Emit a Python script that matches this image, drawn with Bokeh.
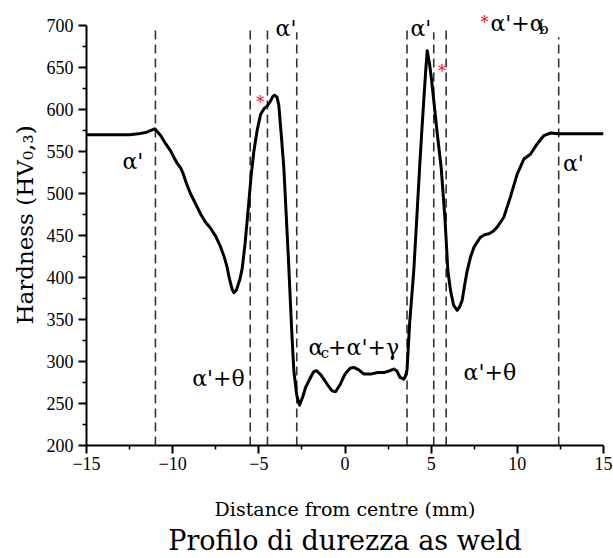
import math
from bokeh.plotting import figure
from bokeh.models import Range1d, FixedTicker, Label, Title
from bokeh.embed import file_html
from bokeh.resources import INLINE

# ---- data ----
distance = [-15.0, -13.0, -12.5, -12.0, -11.5, -11.04, -10.7, -10.4, -10.13, -9.9, -9.74,
            -9.55, -9.4, -9.2, -8.97, -8.7, -8.39, -8.1, -7.81, -7.5, -7.23, -7.0, -6.84,
            -6.7, -6.55, -6.45, -6.3, -6.1, -5.97, -5.8, -5.58, -5.45, -5.29, -5.1, -4.9,
            -4.7, -4.52, -4.35, -4.2, -4.09, -3.95, -3.84, -3.7, -3.55, -3.4, -3.26, -3.1,
            -2.97, -2.8, -2.64, -2.45, -2.29, -2.0, -1.81, -1.65, -1.4, -1.0, -0.75, -0.55,
            -0.3, 0.0, 0.3, 0.51, 0.8, 1.1, 1.48, 1.9, 2.3, 2.6, 2.83, 3.0, 3.2, 3.41, 3.5,
            3.6, 3.75, 3.99, 4.15, 4.33, 4.45, 4.57, 4.68, 4.77, 4.9, 5.02, 5.15, 5.35, 5.58,
            5.8, 5.97, 6.12, 6.3, 6.51, 6.65, 6.8, 6.95, 7.09, 7.28, 7.48, 7.86, 8.1, 8.35,
            8.6, 8.83, 9.22, 9.6, 9.99, 10.38, 10.77, 11.15, 11.54, 11.93, 12.37, 13.0, 15.0]
hardness = [570, 570, 570, 571, 573, 577, 569, 559, 551, 542, 536,
            531, 524, 512, 500, 489, 476, 466, 459, 449, 437, 424, 412,
            398, 386, 382, 385, 398, 410, 440, 490, 520, 550, 575, 594,
            601, 604, 609, 615, 617, 615, 605, 570, 531, 470, 412, 340,
            289, 260, 248, 258, 269, 281, 288, 289, 284, 272, 265, 264,
            272, 285, 292, 293, 290, 285, 285, 287, 287, 289, 291, 289, 281, 279, 282,
            290, 345, 408, 465, 531, 572, 611, 645, 670, 655, 636, 611, 572, 531,
            470, 408, 385, 367, 361, 365, 373, 392, 408, 424, 436, 448, 451, 452,
            455, 460, 472, 496, 523, 541, 547, 559, 569, 572, 571, 571, 571]

boundary_x = [-11.0, -5.5, -4.5, -2.8, 3.6, 5.15, 5.87, 12.4]
boundary_top = [697, 694, 694, 692, 697, 692, 697, 686]

x_ticks = [-15, -10, -5, 0, 5, 10, 15]
x_minor = [-12.5, -7.5, -2.5, 2.5, 7.5, 12.5]
x_tick_labels = ["\u221215", "\u221210", "\u22125", "0", "5", "10", "15"]
y_ticks = [200, 250, 300, 350, 400, 450, 500, 550, 600, 650, 700]
y_minor = [225, 275, 325, 375, 425, 475, 525, 575, 625, 675]

x_title = "Distance from centre (mm)"
y_title = "Hardness (HV\u2080,\u2083)"
chart_title = "Profilo di durezza as weld"

SERIF = "DejaVu Serif"
TICKFONT = "Liberation Serif"

p = figure(width=613, height=558, output_backend="svg", toolbar_location=None,
           x_range=Range1d(-15, 15), y_range=Range1d(200, 725),
           min_border_left=86, min_border_right=10, min_border_top=4,
           min_border_bottom=113)
p.outline_line_color = None
p.grid.visible = False
p.background_fill_color = "white"
p.border_fill_color = "white"

for ax, ticks, minor in ((p.xaxis[0], x_ticks, x_minor), (p.yaxis[0], y_ticks, y_minor)):
    ax.ticker = FixedTicker(ticks=ticks, minor_ticks=minor)
    ax.axis_line_width = 2
    ax.axis_line_color = "black"
    ax.major_tick_line_width = 2
    ax.major_tick_line_color = "black"
    ax.minor_tick_line_width = 1.5
    ax.minor_tick_line_color = "black"
    ax.major_tick_out = 8
    ax.major_tick_in = 0
    ax.minor_tick_out = 4
    ax.minor_tick_in = 0
    ax.major_label_text_font = TICKFONT
    ax.major_label_text_font_size = "18px"
    ax.major_label_text_color = "black"
    ax.axis_label_text_font = SERIF
    ax.axis_label_text_font_style = "normal"
    ax.axis_label_text_color = "black"

p.yaxis[0].bounds = (200, 700)
p.xaxis[0].major_label_overrides = {t: l for t, l in zip(x_ticks, x_tick_labels)}
p.xaxis[0].major_label_standoff = 3
p.yaxis[0].major_label_standoff = 5
p.xaxis[0].axis_label = x_title
p.xaxis[0].axis_label_text_font_size = "19px"
p.xaxis[0].axis_label_standoff = 25
p.yaxis[0].axis_label = y_title
p.yaxis[0].axis_label_text_font_size = "23px"
p.yaxis[0].axis_label_standoff = 6

p.add_layout(Title(text=chart_title, align="center", text_font=SERIF,
                   text_font_size="27px", text_font_style="normal",
                   text_color="black", standoff=0), "below")

# boundaries
p.segment(x0=boundary_x, y0=[200] * len(boundary_x), x1=boundary_x, y1=boundary_top,
          line_color="#333333", line_width=1.6, line_dash="9 5")

# profile
p.line(distance, hardness, line_color="black", line_width=3, line_join="round")


def lab(x, y, text, size, color="black", font=SERIF, align="left"):
    p.add_layout(Label(x=x, y=y, text=text, text_font=font, text_font_size=f"{size}px",
                       text_color=color, text_align=align, text_baseline="alphabetic"))


# phase labels
lab(-12.91, 538, "\u03b1'", 22)
lab(-4.03, 696, "\u03b1'", 22)
lab(3.8, 697, "\u03b1'", 22)
lab(12.65, 536, "\u03b1'", 22)
lab(-8.87, 280, "\u03b1'+\u03b8", 22)
lab(6.88, 287, "\u03b1'+\u03b8", 22)
lab(-2.12, 317, "\u03b1", 22)
lab(-1.40, 310, "c", 15)
lab(-0.98, 317, "+\u03b1'+\u03b3", 22)
lab(8.44, 702, "\u03b1'+\u03b1", 22)
lab(11.25, 696, "b", 15)
# red asterisks
lab(-5.15, 608, "*", 16, color="red")
lab(5.39, 645, "*", 16, color="red")
lab(7.86, 704, "*", 16, color="red")

open("out.html", "w").write(file_html(p, INLINE))
